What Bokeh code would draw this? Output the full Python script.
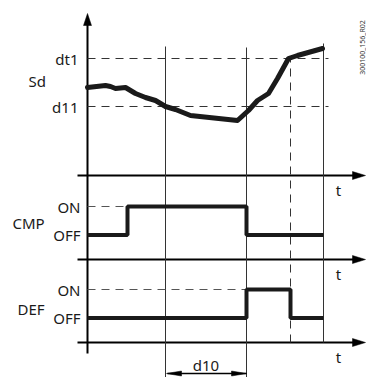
from bokeh.plotting import figure
from bokeh.models import Range1d
from bokeh.core.properties import value
from bokeh.embed import file_html
from bokeh.resources import INLINE
import math

# ---------------- data ----------------
# time axis (arbitrary units, 0 = origin of time axes)
sd_t = [0, 18, 23, 28, 38, 43, 48, 58, 68, 78, 88, 103, 150, 161, 170, 181, 190, 201, 210, 235]
sd_v = [88, 90, 89, 87, 88, 85, 82, 78, 75, 69, 66, 60, 55, 65, 75, 82, 97, 117, 120, 127]
dt1 = 117
d11 = 69
sd_labels = ["dt1", "d11"]

t_cmp_on = 40
t_d10_start = 78
t_def_on = 159          # = compressor off
t_def_off = 203
t_end = 236

cmp_t = [0, t_cmp_on, t_def_on, t_end]
cmp_state = [0, 1, 0, 0]
def_t = [0, t_def_on, t_def_off, t_end]
def_state = [0, 1, 0, 0]
state_labels = ["OFF", "ON"]
panel_names = ["CMP", "DEF"]
doc_id = "300100_156_R02"

# ---------------- layout (panel bases in chart units) ----------------
SD_BASE = 202
CMP_BASE = 118
DEF_BASE = 35
OFF_LVL = 24.5
ON_LVL = 53
X_LEFT = -10
X_ARROW = 278
FONT = value("Noto Sans")

p = figure(width=366, height=377, output_backend="svg", toolbar_location=None,
           x_range=Range1d(-87, 279), y_range=Range1d(0, 377),
           min_border=0, min_border_left=0, min_border_right=0,
           min_border_top=0, min_border_bottom=0)
p.axis.visible = False
p.grid.visible = False
p.outline_line_color = None
p.background_fill_color = "white"
p.border_fill_color = "white"


def head(tip_x, tip_y, dx, dy, length, width):
    nx, ny = -dy, dx
    bx, by = tip_x - dx * length, tip_y - dy * length
    return ([tip_x, bx + nx * width / 2, bx - nx * width / 2],
            [tip_y, by + ny * width / 2, by - ny * width / 2])

heads_x, heads_y = [], []

# vertical main axis
p.line([0, 0], [24, 356], line_color="black", line_width=2)
hx, hy = head(0, 364, 0, 1, 12, 8)
heads_x.append(hx); heads_y.append(hy)

# horizontal time axes
for base in [SD_BASE, CMP_BASE, DEF_BASE]:
    p.line([X_LEFT, X_ARROW - 10], [base, base], line_color="black", line_width=2)
    hx, hy = head(X_ARROW, base, 1, 0, 13, 8)
    heads_x.append(hx); heads_y.append(hy)

# thin vertical event lines
p.line([t_d10_start] * 2, [0, 331], line_color="#333333", line_width=1)
p.line([t_def_on] * 2, [0, 330], line_color="#333333", line_width=1)
p.line([t_end] * 2, [DEF_BASE, 334], line_color="#333333", line_width=1)
p.line([t_def_off] * 2, [DEF_BASE, SD_BASE + dt1], line_color="#333333",
       line_width=1, line_dash="8 6")

# dashed threshold lines
for lv in [dt1, d11]:
    p.line([0, t_end + 5], [SD_BASE + lv] * 2, line_color="#333333",
           line_width=1, line_dash="8 6")
p.line([0, t_cmp_on], [CMP_BASE + ON_LVL] * 2, line_color="#555555",
       line_width=1, line_dash="8 6")
p.line([0, t_def_on], [DEF_BASE + ON_LVL] * 2, line_color="#555555",
       line_width=1, line_dash="8 6")

# Sd curve
p.line(sd_t, [SD_BASE + v for v in sd_v], line_color="#1a1a1a",
       line_width=5, line_join="round", line_cap="round")

# CMP and DEF step lines
lv = lambda s: OFF_LVL + s * (ON_LVL - OFF_LVL)
p.step(cmp_t, [CMP_BASE + lv(s) for s in cmp_state], mode="after",
       line_color="#1a1a1a", line_width=4)
p.step(def_t, [DEF_BASE + lv(s) for s in def_state], mode="after",
       line_color="#1a1a1a", line_width=4)

# d10 dimension arrow
p.line([t_d10_start + 2, t_def_on], [4, 4], line_color="black", line_width=1.5)
hx, hy = head(t_d10_start + 1, 4, -1, 0, 15, 5)
heads_x.append(hx); heads_y.append(hy)
hx, hy = head(t_def_on, 4, 1, 0, 15, 5)
heads_x.append(hx); heads_y.append(hy)

p.patches(heads_x, heads_y, fill_color="black", line_color="black", line_width=0.5)

# ---------------- texts ----------------
def txt(x, y, s, align="left", size="15px", color="#1a1a1a", angle=0.0):
    p.text(x=[x], y=[y], text=[s], text_font=FONT, text_font_size=size,
           text_align=align, text_baseline="middle", text_color=color, angle=angle)

txt(-9, SD_BASE + dt1, sd_labels[0], align="right")
txt(-9, SD_BASE + d11, sd_labels[1], align="right")
txt(-59, SD_BASE + 95, "Sd")

txt(-7, CMP_BASE + ON_LVL, state_labels[1], align="right")
txt(-7, CMP_BASE + OFF_LVL, state_labels[0], align="right")
txt(-75, CMP_BASE + 37, panel_names[0])
txt(-7, DEF_BASE + ON_LVL, state_labels[1], align="right")
txt(-7, DEF_BASE + OFF_LVL, state_labels[0], align="right")
txt(-70, DEF_BASE + 34, panel_names[1])

for base in [SD_BASE, CMP_BASE, DEF_BASE]:
    txt(251, base - 14, "t", align="center")

txt((t_d10_start + t_def_on) / 2, 13, "d10", align="center")
txt(275, 330, doc_id, align="center", size="7px", color="#333333", angle=math.pi / 2)

open("out.html", "w").write(file_html(p, INLINE))
